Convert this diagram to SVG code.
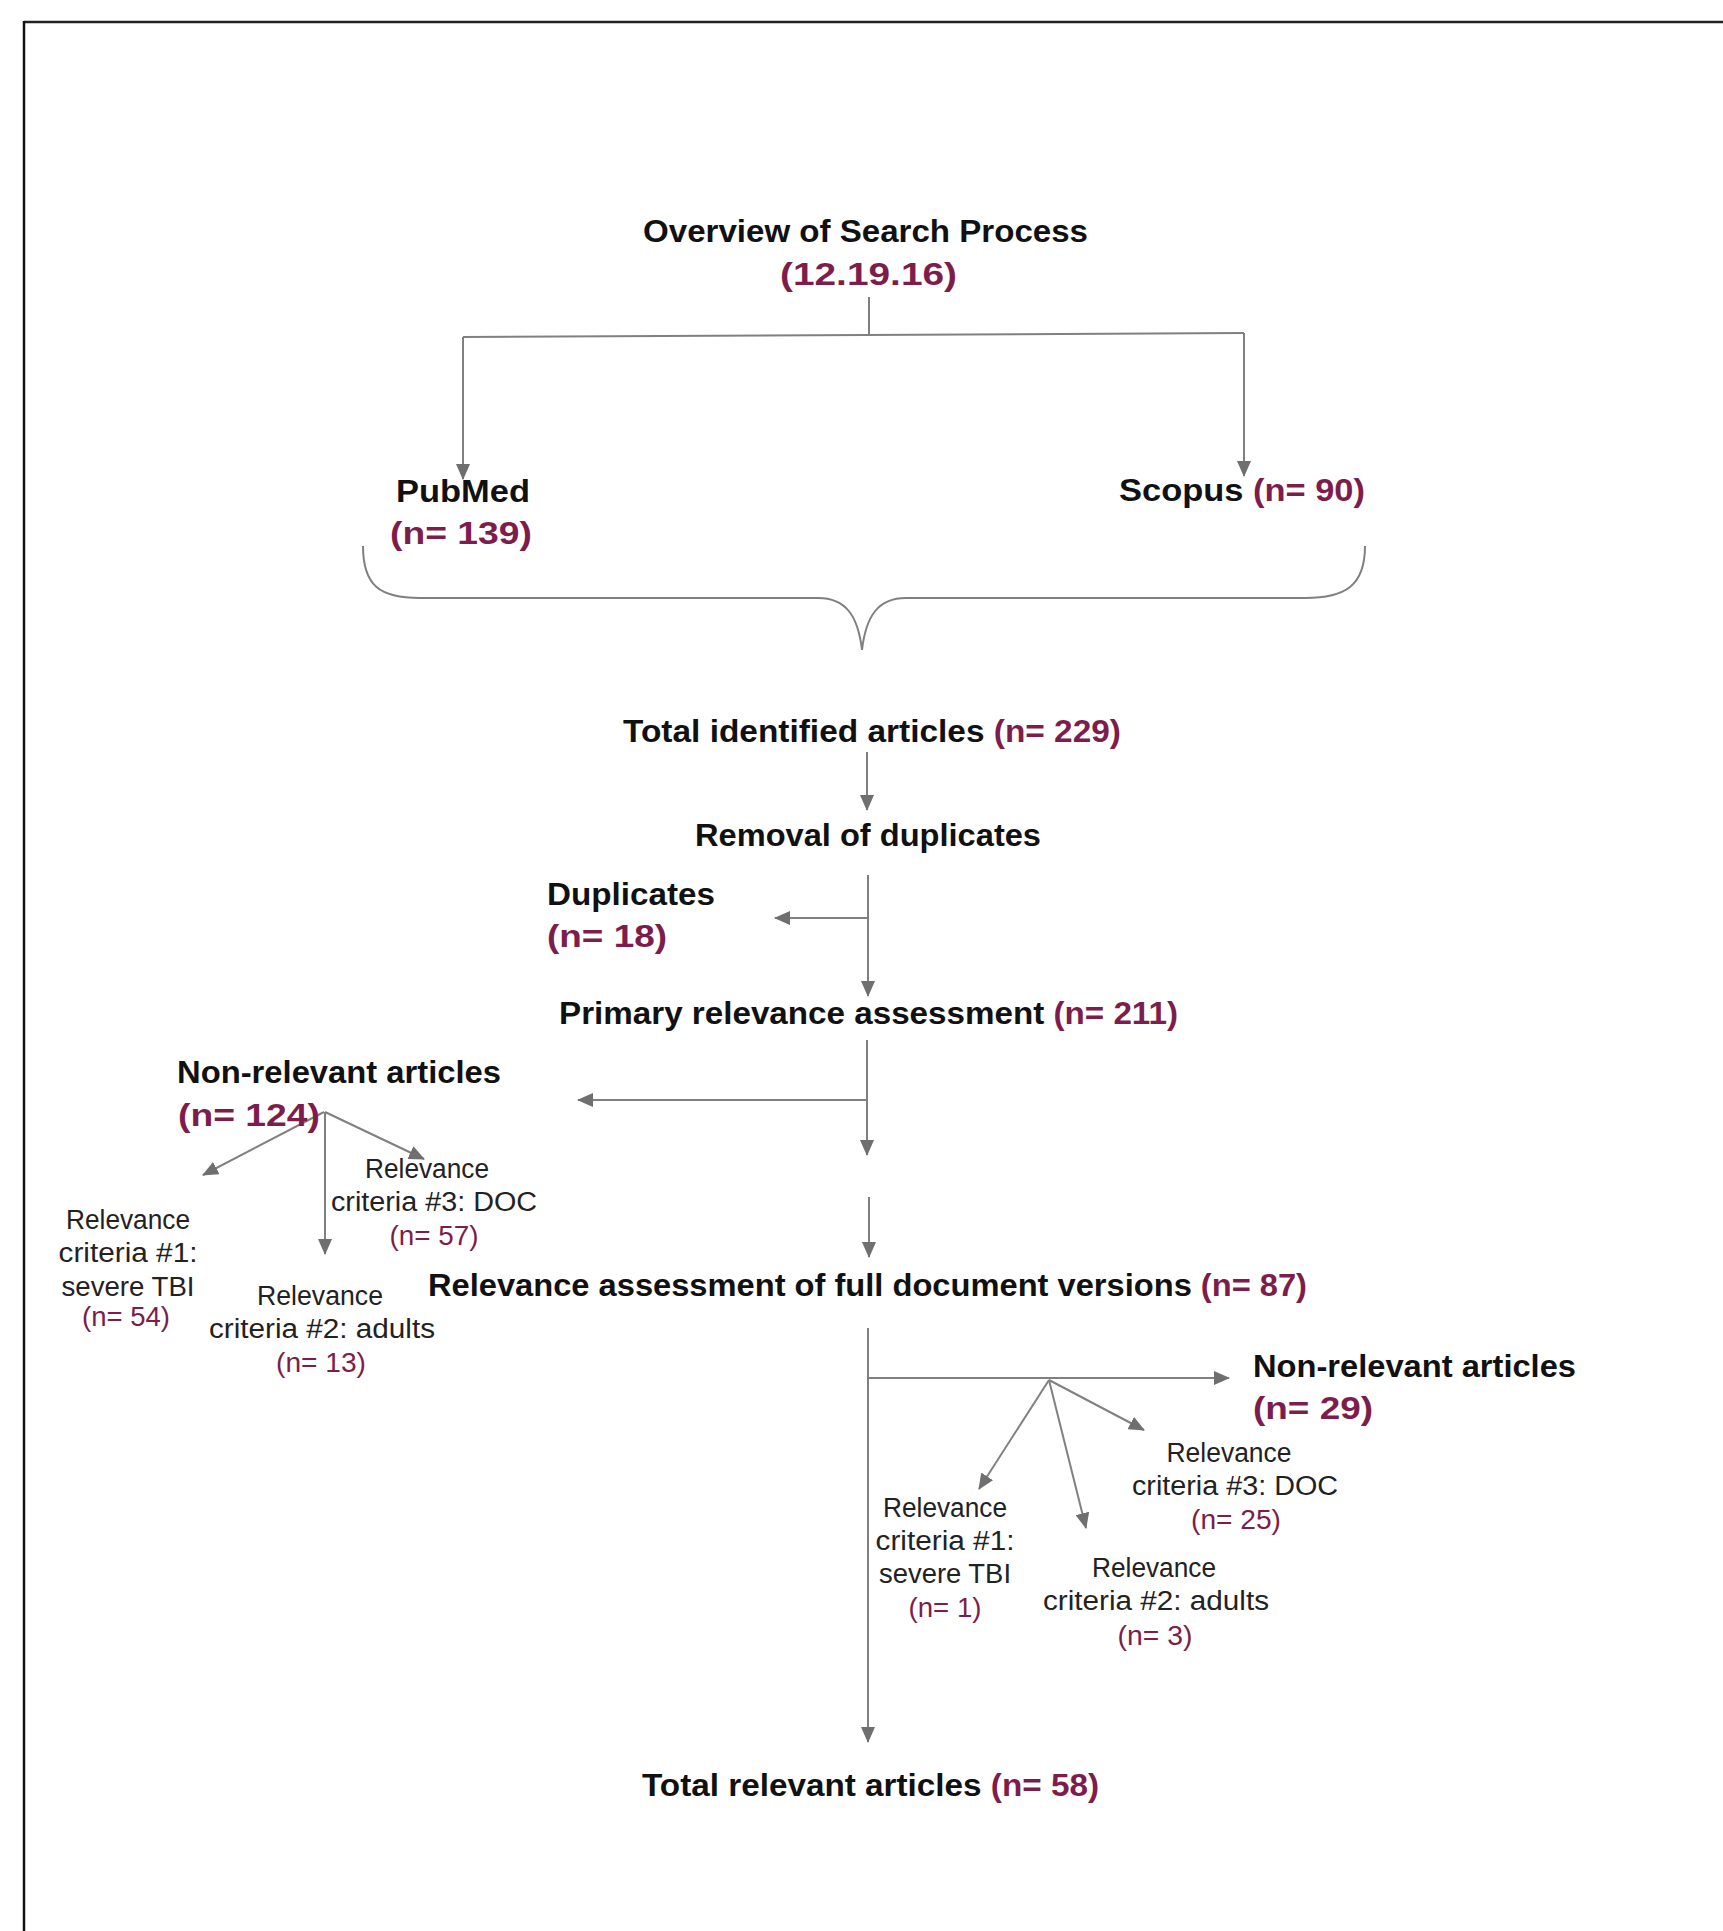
<svg xmlns="http://www.w3.org/2000/svg" width="1723" height="1931" viewBox="0 0 1723 1931">
<style>
.b{font-family:"Liberation Sans",Arial,sans-serif;font-weight:bold;font-size:32px;fill:#111}
.n{fill:#7d1d4b}
.s{font-family:"Liberation Sans",Arial,sans-serif;font-size:27px;fill:#222;text-anchor:middle}
.sn{fill:#7d1d4b}
.ln{fill:none;stroke:#808080;stroke-width:2}
.ar{marker-end:url(#ah)}
</style>
<defs>
<marker id="ah" viewBox="0 0 16 14" refX="15" refY="7" markerWidth="16" markerHeight="14" markerUnits="userSpaceOnUse" orient="auto">
<path d="M0,0 L16,7 L0,14 Z" fill="#6f6f6f"/>
</marker>
</defs>
<rect x="0" y="0" width="1723" height="1931" fill="#fff"/>
<g id="frame">
<line x1="24" y1="22" x2="1723" y2="22" stroke="#222" stroke-width="2.5"/>
<line x1="24" y1="21" x2="24" y2="1931" stroke="#111" stroke-width="2.5"/>
</g>
<g id="connectors">
<path class="ln" d="M869,297 L869,335"/>
<path class="ln" d="M463,337 L1244,333"/>
<path class="ln ar" d="M463,337 L463,479"/>
<path class="ln ar" d="M1244,333 L1244,476"/>
<path class="ln" d="M363,546 C363,586 380,598 420,598 L818,598 C846,598 858,616 862,650 C866,616 878,598 906,598 L1305,598 C1345,598 1365,586 1365,546"/>
<path class="ln ar" d="M867,752 L867,810"/>
<path class="ln ar" d="M868,875 L868,996"/>
<path class="ln ar" d="M868,918 L775,918"/>
<path class="ln ar" d="M867,1040 L867,1155"/>
<path class="ln ar" d="M867,1100 L578,1100"/>
<path class="ln ar" d="M869,1197 L869,1257"/>
<path class="ln ar" d="M868,1328 L868,1742"/>
<path class="ln ar" d="M868,1378 L1229,1378"/>
<path class="ln ar" d="M324,1112 L203,1175"/>
<path class="ln ar" d="M325,1112 L325,1254"/>
<path class="ln ar" d="M325,1112 L424,1159"/>
<path class="ln ar" d="M1049,1380 L979,1489"/>
<path class="ln ar" d="M1049,1380 L1086,1528"/>
<path class="ln ar" d="M1049,1380 L1144,1430"/>
</g>
<g id="title">
<text class="b" x="643" y="242" textLength="445" lengthAdjust="spacingAndGlyphs">Overview of Search Process</text>
<text class="b n" x="780" y="285" textLength="177" lengthAdjust="spacingAndGlyphs">(12.19.16)</text>
</g>
<g id="pubmed">
<text class="b" x="396" y="502" textLength="134" lengthAdjust="spacingAndGlyphs">PubMed</text>
<text class="b n" x="390" y="544" textLength="142" lengthAdjust="spacingAndGlyphs">(n= 139)</text>
</g>
<g id="scopus">
<text class="b" x="1119" y="501" textLength="246" lengthAdjust="spacingAndGlyphs">Scopus <tspan class="n">(n= 90)</tspan></text>
</g>
<g id="total-identified">
<text class="b" x="623" y="742" textLength="498" lengthAdjust="spacingAndGlyphs">Total identified articles <tspan class="n">(n= 229)</tspan></text>
</g>
<g id="removal">
<text class="b" x="695" y="846" textLength="346" lengthAdjust="spacingAndGlyphs">Removal of duplicates</text>
</g>
<g id="duplicates">
<text class="b" x="547" y="905" textLength="168" lengthAdjust="spacingAndGlyphs">Duplicates</text>
<text class="b n" x="547" y="947" textLength="120" lengthAdjust="spacingAndGlyphs">(n= 18)</text>
</g>
<g id="primary">
<text class="b" x="559" y="1024" textLength="619" lengthAdjust="spacingAndGlyphs">Primary relevance assessment <tspan class="n">(n= 211)</tspan></text>
</g>
<g id="nonrel-left">
<text class="b" x="177" y="1083" textLength="324" lengthAdjust="spacingAndGlyphs">Non-relevant articles</text>
<text class="b n" x="178" y="1126" textLength="142" lengthAdjust="spacingAndGlyphs">(n= 124)</text>
</g>
<g id="left-c1">
<text class="s" x="128" y="1229" textLength="124" lengthAdjust="spacingAndGlyphs">Relevance</text>
<text class="s" x="128" y="1262" textLength="139" lengthAdjust="spacingAndGlyphs">criteria #1:</text>
<text class="s" x="128" y="1296" textLength="133" lengthAdjust="spacingAndGlyphs">severe TBI</text>
<text class="s sn" x="126" y="1326" textLength="88" lengthAdjust="spacingAndGlyphs">(n= 54)</text>
</g>
<g id="left-c2">
<text class="s" x="320" y="1305" textLength="126" lengthAdjust="spacingAndGlyphs">Relevance</text>
<text class="s" x="322" y="1338" textLength="226" lengthAdjust="spacingAndGlyphs">criteria #2: adults</text>
<text class="s sn" x="321" y="1372" textLength="90" lengthAdjust="spacingAndGlyphs">(n= 13)</text>
</g>
<g id="left-c3">
<text class="s" x="427" y="1178" textLength="124" lengthAdjust="spacingAndGlyphs">Relevance</text>
<text class="s" x="434" y="1211" textLength="206" lengthAdjust="spacingAndGlyphs">criteria #3: DOC</text>
<text class="s sn" x="434" y="1245" textLength="89" lengthAdjust="spacingAndGlyphs">(n= 57)</text>
</g>
<g id="full-doc">
<text class="b" x="428" y="1296" textLength="879" lengthAdjust="spacingAndGlyphs">Relevance assessment of full document versions <tspan class="n">(n= 87)</tspan></text>
</g>
<g id="nonrel-right">
<text class="b" x="1253" y="1377" textLength="323" lengthAdjust="spacingAndGlyphs">Non-relevant articles</text>
<text class="b n" x="1253" y="1419" textLength="120" lengthAdjust="spacingAndGlyphs">(n= 29)</text>
</g>
<g id="right-c3">
<text class="s" x="1229" y="1462" textLength="125" lengthAdjust="spacingAndGlyphs">Relevance</text>
<text class="s" x="1235" y="1495" textLength="206" lengthAdjust="spacingAndGlyphs">criteria #3: DOC</text>
<text class="s sn" x="1236" y="1529" textLength="90" lengthAdjust="spacingAndGlyphs">(n= 25)</text>
</g>
<g id="right-c1">
<text class="s" x="945" y="1517" textLength="124" lengthAdjust="spacingAndGlyphs">Relevance</text>
<text class="s" x="945" y="1550" textLength="139" lengthAdjust="spacingAndGlyphs">criteria #1:</text>
<text class="s" x="945" y="1583" textLength="132" lengthAdjust="spacingAndGlyphs">severe TBI</text>
<text class="s sn" x="945" y="1617" textLength="73" lengthAdjust="spacingAndGlyphs">(n= 1)</text>
</g>
<g id="right-c2">
<text class="s" x="1154" y="1577" textLength="124" lengthAdjust="spacingAndGlyphs">Relevance</text>
<text class="s" x="1156" y="1610" textLength="226" lengthAdjust="spacingAndGlyphs">criteria #2: adults</text>
<text class="s sn" x="1155" y="1645" textLength="75" lengthAdjust="spacingAndGlyphs">(n= 3)</text>
</g>
<g id="total-relevant">
<text class="b" x="642" y="1796" textLength="457" lengthAdjust="spacingAndGlyphs">Total relevant articles <tspan class="n">(n= 58)</tspan></text>
</g>
</svg>
